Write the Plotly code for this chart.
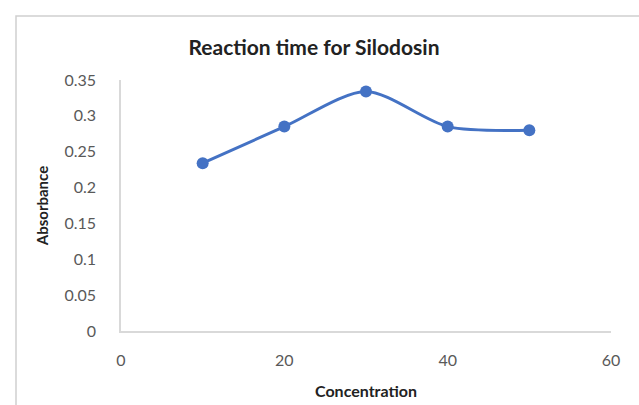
import plotly.graph_objects as go

concentration = [10, 20, 30, 40, 50]
absorbance = [0.234, 0.285, 0.334, 0.285, 0.280]
y_ticks = [0, 0.05, 0.1, 0.15, 0.2, 0.25, 0.3, 0.35]
y_tick_labels = ["0", "0.05", "0.1", "0.15", "0.2", "0.25", "0.3", "0.35"]
x_ticks = [0, 20, 40, 60]

W, H = 639, 405
L, R, T, B = 121, 611, 80, 331

fig = go.Figure()
fig.add_trace(go.Scatter(
    x=concentration, y=absorbance, mode="lines+markers",
    line=dict(color="#4472C4", width=3, shape="spline", smoothing=0.8),
    marker=dict(color="#4472C4", size=12),
    showlegend=False,
))

font_fam = "Lato, 'Open Sans', sans-serif"
fig.update_layout(
    width=W, height=H,
    margin=dict(l=L, r=W - R, t=T, b=H - B, autoexpand=False),
    paper_bgcolor="white", plot_bgcolor="white",
    title=dict(text="<b>Reaction time for Silodosin</b>", x=314 / W, xanchor="center",
               y=1 - 48 / H, yanchor="middle",
               font=dict(family=font_fam, size=21, color="#222222")),
    xaxis=dict(range=[0, 60], tickvals=x_ticks, showgrid=False, zeroline=False,
               automargin=False,
               showline=True, linecolor="#d9d9d9", linewidth=1.5, ticks="",
               tickfont=dict(family=font_fam, size=16, color="#595959"),
               ticklabelstandoff=14,
               title=dict(text="<b>Concentration</b>", standoff=18,
                          font=dict(family=font_fam, size=16, color="#222222"))),
    yaxis=dict(range=[0, 0.35], tickvals=y_ticks, ticktext=y_tick_labels,
               showgrid=False, zeroline=False, automargin=False,
               showline=True, linecolor="#d9d9d9", linewidth=1.5, ticks="",
               tickfont=dict(family=font_fam, size=16, color="#595959"),
               ticklabelstandoff=20,
               title=dict(text="<b>Absorbance</b>", standoff=12,
                          font=dict(family=font_fam, size=15, color="#222222"))),
)

# outer chart frame
def px_to_paper_x(px):
    return (px - L) / (R - L)

def py_to_paper_y(py):
    return (B - py) / (B - T)

fig.add_shape(type="rect", xref="paper", yref="paper",
              x0=px_to_paper_x(16), x1=px_to_paper_x(660),
              y0=py_to_paper_y(420), y1=py_to_paper_y(16),
              line=dict(color="#d0d0d0", width=1.5), fillcolor="rgba(0,0,0,0)",
              layer="below")

fig.write_html("out.html")
